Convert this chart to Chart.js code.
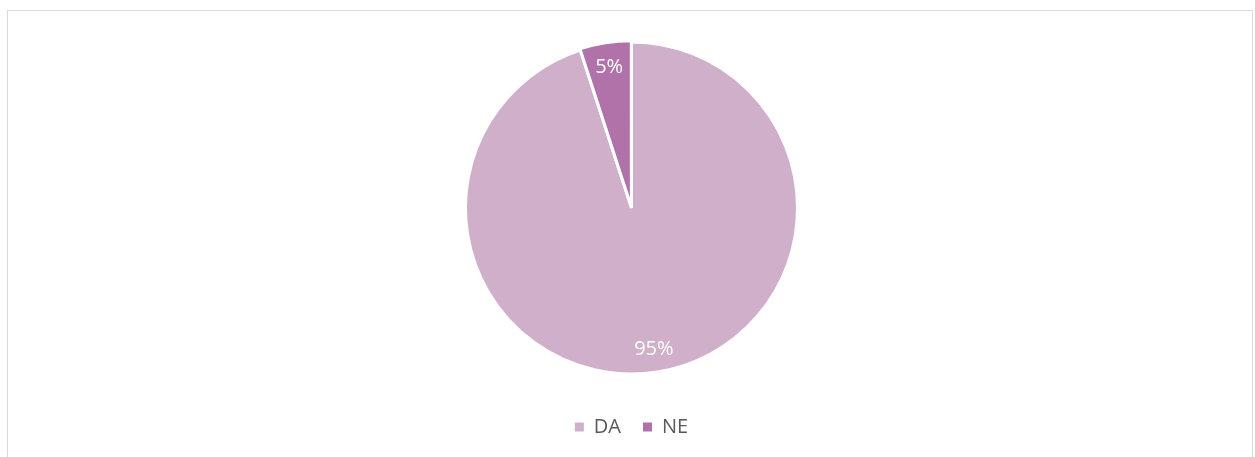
<!DOCTYPE html>
<html>
<head>
<meta charset="utf-8">
<script src="https://cdn.jsdelivr.net/npm/chart.js@4/dist/chart.umd.min.js"></script>
<style>
  html, body { margin: 0; padding: 0; background: #fff; overflow: hidden; }
  #frame {
    position: absolute; left: 7px; top: 10px; width: 1246px; height: 460px;
    border: 1px solid #D9D9D9; box-sizing: border-box;
  }
  #wrap { position: absolute; left: 0; top: 0; width: 1255px; height: 457px; }
</style>
</head>
<body>
<div id="frame"></div>
<div id="wrap"><canvas id="grafico"></canvas></div>
<script>
const categorias = ["DA", "NE"];
const valores = [95, 5];
const rotulos = ["95%", "5%"];
const cores = ["#D0AFCA", "#B172AA"];

// rótulos de percentagem dentro das fatias
const rotulosPlugin = {
  id: "rotulos",
  afterDatasetsDraw(chart) {
    const ctx = chart.ctx;
    const meta = chart.getDatasetMeta(0);
    ctx.save();
    ctx.fillStyle = "#ffffff";
    ctx.font = "20px 'Open Sans', sans-serif";
    ctx.textAlign = "center";
    ctx.textBaseline = "middle";
    meta.data.forEach((arco, i) => {
      const p = arco.getProps(["x", "y", "startAngle", "endAngle", "outerRadius"], true);
      const meio = (p.startAngle + p.endAngle) / 2;
      const r = p.outerRadius * 0.86;
      ctx.fillText(rotulos[i], p.x + Math.cos(meio) * r, p.y + Math.sin(meio) * r);
    });
    ctx.restore();
  }
};

const gerarLegenda = Chart.overrides.pie.plugins.legend.labels.generateLabels;

new Chart(document.getElementById("grafico"), {
  type: "pie",
  data: {
    labels: categorias,
    datasets: [{
      data: valores,
      backgroundColor: cores,
      borderColor: "#ffffff",
      borderWidth: 3,
      offset: [0, 3],
      radius: 166
    }]
  },
  options: {
    responsive: true,
    maintainAspectRatio: false,
    animation: false,
    layout: { padding: { top: 21, bottom: 10, left: 8 } },
    plugins: {
      tooltip: { enabled: false },
      legend: {
        position: "bottom",
        labels: {
          boxWidth: 9,
          boxHeight: 9,
          padding: 22,
          color: "#595959",
          font: { family: "'Open Sans', sans-serif", size: 20 },
          generateLabels(chart) {
            return gerarLegenda(chart).map(item => ({ ...item, lineWidth: 0 }));
          }
        }
      }
    }
  },
  plugins: [rotulosPlugin]
});
</script>
</body>
</html>
